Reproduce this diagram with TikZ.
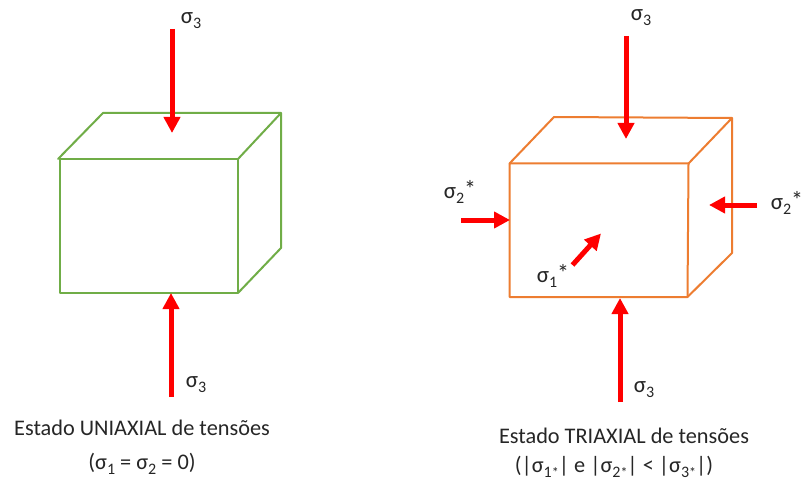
\documentclass[tikz,border=0pt]{standalone}
\usepackage{fontspec}
\setmainfont{Carlito}
\usetikzlibrary{arrows.meta}
\definecolor{cubegreen}{RGB}{112,173,71}
\definecolor{cubeorange}{RGB}{237,125,49}
\definecolor{inktext}{RGB}{38,38,38}
\newcommand{\lowsub}[1]{\raisebox{-0.22em}{\fontsize{16}{16}\selectfont #1}}
\newcommand{\starsub}[1]{\raisebox{-0.22em}{\fontsize{16}{16}\selectfont #1}\raisebox{-0.22em}{\fontsize{14}{14}\selectfont *}}
\newcommand{\bigstar}{\raisebox{0.02em}{\fontsize{24}{24}\selectfont *}}
\tikzset{
  greenedge/.style={draw=cubegreen,line width=2pt,line cap=round,line join=round},
  orangeedge/.style={draw=cubeorange,line width=2pt,line cap=round,line join=round},
  force/.style={draw=red,line width=5pt,-{Triangle[width=16pt,length=16pt]},shorten >=0pt},
  sigmalabel/.style={inner sep=0pt,text=inktext,font=\fontsize{23}{26}\selectfont,anchor=center},
  caption/.style={inner sep=0pt,text=inktext,font=\fontsize{22.3}{26}\selectfont,anchor=center}
}
\begin{document}
\begin{tikzpicture}[x=1pt,y=-1pt]
\useasboundingbox[fill=white] (0,0) rectangle (802,481);
% green cube
\coordinate (ga) at (59.5,159);
\coordinate (gb) at (238,159);
\coordinate (gc) at (238,293);
\coordinate (gd) at (59.5,293);
\coordinate (ge) at (103,113);
\coordinate (gf) at (281,113);
\coordinate (gg) at (281,248);
\draw[greenedge] (ga) -- (gb) -- (gc) -- (gd) -- cycle;
\draw[greenedge] (58,159) -- (ge) -- (gf) -- (gg) -- (gc);
\draw[greenedge] (gb) -- (gf);
% orange cube
\coordinate (oa) at (509.5,163.5);
\coordinate (ob) at (688.5,163.5);
\coordinate (oc) at (687.5,297);
\coordinate (od) at (509.5,297);
\coordinate (oe) at (554,117);
\coordinate (of) at (732,118);
\coordinate (og) at (732,253);
\draw[orangeedge] (oa) -- (ob) -- (oc) -- (od) -- cycle;
\draw[orangeedge] (oa) -- (oe) -- (of) -- (og) -- (oc);
\draw[orangeedge] (ob) -- (of);
% labels
\node[sigmalabel] (lt) at (191,21) {σ\lowsub{3}};
\node[sigmalabel] (lb) at (196,385) {σ\lowsub{3}};
\node[sigmalabel] (rt) at (641,18) {σ\lowsub{3}};
\node[sigmalabel] (rb) at (644,390) {σ\lowsub{3}};
\node[sigmalabel] (s2l) at (460,192) {σ\lowsub{2}\bigstar};
\node[sigmalabel] (s2r) at (787,203) {σ\lowsub{2}\bigstar};
\node[sigmalabel] (s1) at (553,276) {σ\lowsub{1}\bigstar};
\node[caption] (c1) at (142,428) {Estado UNIAXIAL de tensões};
\node[caption] (c2) at (142,464) {(σ\lowsub{1} = σ\lowsub{2} = 0)};
\node[caption] (c3) at (624,436) {Estado TRIAXIAL de tensões};
\node[caption] (c4) at (614,467) {(|σ\starsub{1}| e |σ\starsub{2}| < |σ\starsub{3}|)};
% forces
\coordinate (f1a) at (172,29);  \coordinate (f1b) at (172,133);
\coordinate (f2a) at (171,397); \coordinate (f2b) at (171,293);
\coordinate (f3a) at (626,36);  \coordinate (f3b) at (626,139);
\coordinate (f4a) at (620,402); \coordinate (f4b) at (620,298);
\coordinate (f5a) at (461,220); \coordinate (f5b) at (510,220);
\coordinate (f6a) at (757,205); \coordinate (f6b) at (709,205);
\coordinate (f7a) at (572.5,265); \coordinate (f7b) at (601,233.5);
\draw[force] (f1a) -- (f1b);
\draw[force] (f2a) -- (f2b);
\draw[force] (f3a) -- (f3b);
\draw[force] (f4a) -- (f4b);
\draw[force] (f5a) -- (f5b);
\draw[force] (f6a) -- (f6b);
\draw[force] (f7a) -- (f7b);
\end{tikzpicture}
\end{document}
